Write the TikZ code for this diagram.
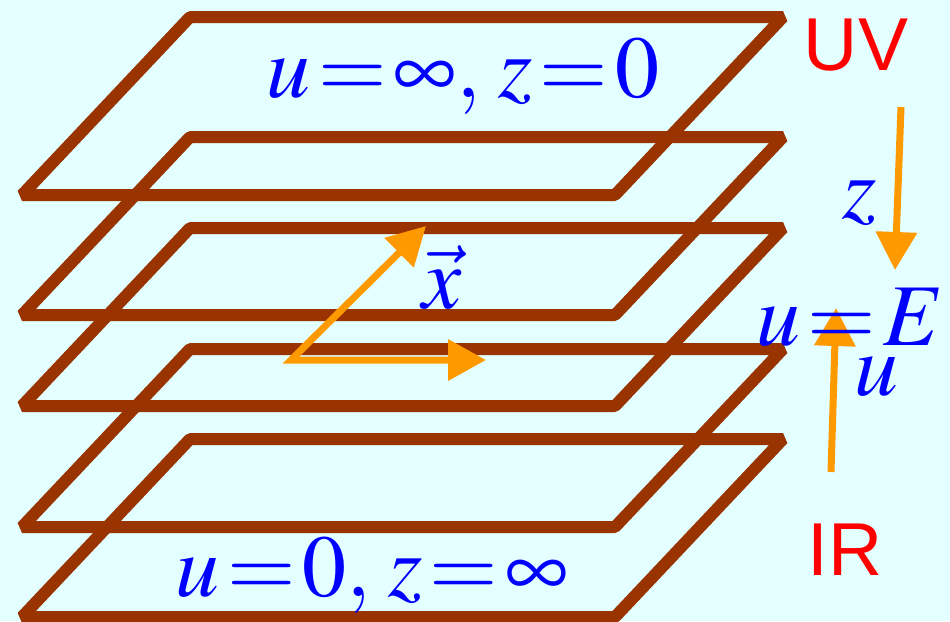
\documentclass[tikz,border=0pt]{standalone}
\usepackage{mathptmx}
\usepackage{fontspec}
\newfontfamily\endfont{Liberation Sans}
\usetikzlibrary{arrows.meta}
\definecolor{bgcyan}{RGB}{228,255,255}
\definecolor{sheetbrown}{RGB}{153,51,0}
\definecolor{axisorange}{RGB}{255,153,0}
\thickmuskip=1.5mu plus 1mu
\tikzset{
  sheet/.style={draw=sheetbrown, line width=12pt, line join=bevel},
  axisline/.style={draw=axisorange, line width=7pt},
  mathlabel/.style={text=blue, inner sep=0pt, anchor=base, font=\fontsize{88}{92}\selectfont},
  endlabel/.style={text=red, inner sep=0pt, anchor=base, font=\endfont\fontsize{75}{80}\selectfont},
}
\begin{document}
\begin{tikzpicture}[x=1pt, y=-1pt, >={Triangle[length=38pt,width=40pt]}]
\fill[bgcyan] (0,0) rectangle (950,621);
\useasboundingbox (0,0) rectangle (950,621);
% the five slices, given by the y of the front edge
\foreach \f in {195,315,406,527,617}
  \draw[sheet] (22,\f) -- (615,\f) -- (783,\f-178) -- (190,\f-178) -- cycle;
% directions along the slice
\coordinate (o) at (291,360);
\coordinate (xd) at (426,226);
\coordinate (xh) at (486,360);
\draw[axisline,<->] (xd) -- (o) -- (xh);
% radial direction
\coordinate (zs) at (901,107);
\coordinate (ze) at (895,270);
\draw[axisline,->] (zs) -- (ze);
\coordinate (us) at (831,472);
\coordinate (ue) at (836,308);
\draw[axisline,->] (us) -- (ue);
% labels
\node[mathlabel] (bdry) at (463,97) {$u=\infty,\; z=0$};
\node[mathlabel] (horz) at (372,596) {$u=0,\; z=\infty$};
\node[mathlabel] (xvec) at (442,308) {$\vec{x}$};
\node[mathlabel] (zlab) at (860,218) {$z$};
\node[mathlabel] (ulab) at (876,395) {$u$};
\node[mathlabel] (cut) at (850,345) {$u=E$};
\node[endlabel] (uv) at (856,70) {UV};
\node[endlabel] (ir) at (845,575) {IR};
\end{tikzpicture}
\end{document}
